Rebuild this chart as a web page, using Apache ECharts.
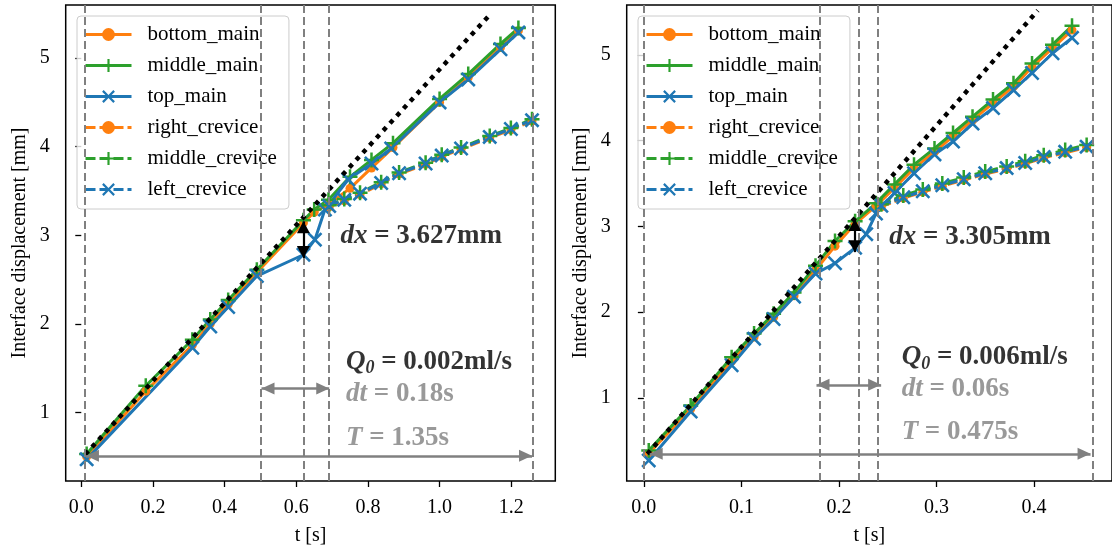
<!DOCTYPE html>
<html><head><meta charset="utf-8">
<script src="https://cdn.jsdelivr.net/npm/echarts@6/dist/echarts.min.js"></script>
<style>html,body{margin:0;padding:0;background:#fff}#c{width:1112px;height:551px}</style>
</head><body><div id="c"></div>
<script>
// ---------- data ----------
const seriesNames = ['bottom_main','middle_main','top_main','right_crevice','middle_crevice','left_crevice'];
const xTicksL = [0, 0.2, 0.4, 0.6, 0.8, 1.0, 1.2];
const xTicksR = [0, 0.1, 0.2, 0.3, 0.4];
const yTicks = [1, 2, 3, 4, 5];

// Left panel: Q0 = 0.002 ml/s
const L_main_t   = [0.015, 0.18, 0.31, 0.36, 0.41, 0.49, 0.62, 0.65, 0.69, 0.75, 0.81, 0.87, 1.0, 1.08, 1.17, 1.22];
const L_bottom_v = [0.50, 1.24, 1.76, 2.00, 2.22, 2.58, 3.14, 3.26, 3.35, 3.53, 3.76, 3.99, 4.50, 4.78, 5.12, 5.31];
const L_middle_v = [0.53, 1.30, 1.82, 2.05, 2.27, 2.61, 3.17, 3.29, 3.40, 3.66, 3.85, 4.04, 4.54, 4.82, 5.16, 5.34];
const L_top_t    = [0.015, 0.31, 0.36, 0.41, 0.49, 0.62, 0.652, 0.68, 0.745, 0.81, 0.865, 1.0, 1.08, 1.17, 1.22];
const L_top_v    = [0.47, 1.73, 1.97, 2.19, 2.54, 2.78, 2.95, 3.29, 3.63, 3.81, 3.98, 4.50, 4.76, 5.10, 5.29];
const L_crev_t         = [0.692, 0.734, 0.778, 0.837, 0.887, 0.961, 1.006, 1.06, 1.14, 1.199, 1.258];
const L_right_crev_v   = [3.32, 3.39, 3.46, 3.58, 3.69, 3.80, 3.89, 3.97, 4.10, 4.19, 4.29];
const L_middle_crev_v  = [3.34, 3.41, 3.48, 3.60, 3.71, 3.82, 3.91, 3.99, 4.12, 4.21, 4.31];
const L_left_crev_v    = [3.33, 3.40, 3.47, 3.59, 3.70, 3.81, 3.90, 3.98, 4.11, 4.20, 4.30];
const L_fit_t = [0.011, 1.137];
const L_fit_v = [0.526, 5.475];
const L_vlines = [0.011, 0.503, 0.62, 0.692, 1.258];
const L_dx = [0.62, 2.744, 3.157];      // t, from, to
const L_dt = [0.503, 0.692, 1.27];      // from, to, level
const L_T  = [0.013, 1.258, 0.51];
const L_text = ['3.627mm', '0.002ml/s', '0.18s', '1.35s'];

// Right panel: Q0 = 0.006 ml/s
const R_main_t   = [0.005, 0.048, 0.09, 0.113, 0.133, 0.154, 0.176, 0.196, 0.2166, 0.238, 0.257, 0.277, 0.298, 0.317, 0.337, 0.358, 0.379, 0.398, 0.419, 0.439];
const R_bottom_v = [0.35, 0.87, 1.43, 1.71, 1.94, 2.19, 2.49, 2.77, 3.03, 3.24, 3.45, 3.68, 3.87, 4.05, 4.24, 4.44, 4.63, 4.86, 5.08, 5.29];
const R_middle_v = [0.385, 0.91, 1.475, 1.75, 1.98, 2.23, 2.54, 2.83, 3.06, 3.27, 3.49, 3.72, 3.91, 4.09, 4.28, 4.48, 4.67, 4.90, 5.12, 5.34];
const R_top_t    = [0.005, 0.048, 0.09, 0.113, 0.133, 0.154, 0.176, 0.196, 0.2166, 0.228, 0.238, 0.257, 0.277, 0.298, 0.317, 0.337, 0.358, 0.379, 0.398, 0.419, 0.439];
const R_top_v    = [0.27, 0.84, 1.38, 1.69, 1.92, 2.18, 2.45, 2.57, 2.75, 2.91, 3.15, 3.39, 3.62, 3.84, 3.99, 4.20, 4.38, 4.59, 4.79, 5.02, 5.20];
const R_crev_t         = [0.2435, 0.266, 0.286, 0.306, 0.328, 0.35, 0.372, 0.391, 0.41, 0.432, 0.454];
const R_right_crev_v   = [3.23, 3.33, 3.40, 3.47, 3.54, 3.61, 3.67, 3.73, 3.80, 3.86, 3.92];
const R_middle_crev_v  = [3.26, 3.36, 3.43, 3.50, 3.57, 3.64, 3.70, 3.76, 3.83, 3.89, 3.95];
const R_left_crev_v    = [3.24, 3.34, 3.41, 3.48, 3.55, 3.62, 3.68, 3.74, 3.81, 3.87, 3.93];
const R_fit_t = [0.0036, 0.404];
const R_fit_v = [0.346, 5.52];
const R_vlines = [0.0036, 0.177, 0.2166, 0.2433, 0.458];
const R_dx = [0.2163, 2.70, 3.086];
const R_dt = [0.177, 0.2433, 1.152];
const R_T  = [0.006, 0.458, 0.347];
const R_text = ['3.305mm', '0.006ml/s', '0.06s', '0.475s'];

// ---------- styling ----------
const FONT = 'Liberation Serif';
const COL = {orange:'#ff7f0e', green:'#2ca02c', blue:'#1f77b4', grey:'#808080'};
const PLUS = 'path://M-1,-6H1V-1H6V1H1V6H-1V1H-6V-1H-1Z';
const CROSS = 'path://M-5.3,-4L-4,-5.3L0,-1.3L4,-5.3L5.3,-4L1.3,0L5.3,4L4,5.3L0,1.3L-4,5.3L-5.3,4L-1.3,0Z';
// arrow head whose tip sits at the symbol centre (invisible moveTo extends the box)
const HEAD = 'path://M0,-12L0,-12M0,0L6,12L-6,12Z';
const STY = {
  bottom_main:   {c:COL.orange, s:'circle', z:9, d:false},
  middle_main:   {c:COL.green,  s:PLUS,     z:15, d:false},
  top_main:      {c:COL.blue,   s:CROSS,    z:15, d:false},
  right_crevice: {c:COL.orange, s:'circle', z:9, d:true},
  middle_crevice:{c:COL.green,  s:PLUS,     z:15, d:true},
  left_crevice:  {c:COL.blue,   s:CROSS,    z:15, d:true}
};
const pairs = (t, v) => t.map((x, i) => [x, v[i]]);

function dataLine(name, t, v, gi) {
  const st = STY[name];
  return {
    type:'line', name, xAxisIndex:gi, yAxisIndex:gi, data:pairs(t, v),
    symbol:st.s, symbolSize:st.z, showSymbol:true, silent:true, animation:false,
    itemStyle:{color:st.c}, lineStyle:{color:st.c, width:3, type: st.d ? [10,4] : 'solid'},
    emphasis:{disabled:true}, z:3
  };
}

function panelSeries(gi, P) {
  const out = [];
  out.push({
    type:'line', xAxisIndex:gi, yAxisIndex:gi, data:[], silent:true, animation:false, z:1,
    markLine:{silent:true, animation:false, symbol:['none','none'], label:{show:false},
      lineStyle:{color:COL.grey, width:2, type:[8,4]},
      data:P.vlines.map(x => ({xAxis:x}))}
  });
  P.series.forEach(s => out.push(dataLine(s[0], s[1], s[2], gi)));
  out.push({
    type:'line', xAxisIndex:gi, yAxisIndex:gi, data:pairs(P.fitT, P.fitV), symbol:'none', silent:true,
    animation:false, lineStyle:{color:'#000', width:4.5, type:[4.5,5.5], cap:'butt'}, z:4
  });
  out.push({
    type:'line', xAxisIndex:gi, yAxisIndex:gi, data:[], silent:true, animation:false, z:5,
    markLine:{silent:true, animation:false, symbol:[HEAD, HEAD], symbolSize:[12,26], label:{show:false},
      lineStyle:{color:COL.grey, width:2.5, type:'solid'},
      data:[[{coord:[P.dt[0], P.dt[2]]},{coord:[P.dt[1], P.dt[2]]}],
            [{coord:[P.T[0], P.T[2]]},{coord:[P.T[1], P.T[2]]}]]}
  });
  out.push({
    type:'line', xAxisIndex:gi, yAxisIndex:gi, data:[], silent:true, animation:false, z:6,
    markLine:{silent:true, animation:false, symbol:[HEAD, HEAD], symbolSize:[13,24], label:{show:false},
      lineStyle:{color:'#000', width:2.2, type:'solid'},
      data:[[{coord:[P.dx[0], P.dx[1]]},{coord:[P.dx[0], P.dx[2]]}]]}
  });
  const rich = {
    bi:{fontFamily:FONT, fontSize:27, fontWeight:'bold', fontStyle:'italic', color:'#000'},
    b:{fontFamily:FONT, fontSize:27, fontWeight:'bold', color:'#000'},
    sub:{fontFamily:FONT, fontSize:18, fontWeight:'bold', fontStyle:'italic', color:'#000', padding:[14,0,0,0]},
    gi:{fontFamily:FONT, fontSize:27, fontWeight:'bold', fontStyle:'italic', color:COL.grey},
    g:{fontFamily:FONT, fontSize:27, fontWeight:'bold', color:COL.grey}
  };
  const txt = [
    [P.ann[0], '{bi|dx}{b| = ' + P.text[0] + '}'],
    [P.ann[1], '{bi|Q}{sub|0}{b| = ' + P.text[1] + '}'],
    [P.ann[2], '{gi|dt}{g| = ' + P.text[2] + '}'],
    [P.ann[3], '{gi|T}{g| = ' + P.text[3] + '}']
  ];
  out.push({
    type:'scatter', xAxisIndex:gi, yAxisIndex:gi, symbolSize:0, silent:true, animation:false, z:7,
    data:txt.map(o => ({value:o[0], label:{formatter:o[1]}})),
    label:{show:true, position:'right', distance:0, align:'left', verticalAlign:'middle', rich}
  });
  return out;
}

const left = {
  vlines:L_vlines, fitT:L_fit_t, fitV:L_fit_v, dx:L_dx, dt:L_dt, T:L_T, text:L_text,
  ann:[[0.7234, 2.988], [0.7388, 1.571], [0.7388, 1.211], [0.7388, 0.715]],
  series:[
    ['bottom_main', L_main_t, L_bottom_v], ['middle_main', L_main_t, L_middle_v], ['top_main', L_top_t, L_top_v],
    ['right_crevice', L_crev_t, L_right_crev_v], ['middle_crevice', L_crev_t, L_middle_crev_v], ['left_crevice', L_crev_t, L_left_crev_v]
  ]
};
const right = {
  vlines:R_vlines, fitT:R_fit_t, fitV:R_fit_v, dx:R_dx, dt:R_dt, T:R_T, text:R_text,
  ann:[[0.2516, 2.873], [0.2643, 1.474], [0.2643, 1.105], [0.2643, 0.600]],
  series:[
    ['bottom_main', R_main_t, R_bottom_v], ['middle_main', R_main_t, R_middle_v], ['top_main', R_top_t, R_top_v],
    ['right_crevice', R_crev_t, R_right_crev_v], ['middle_crevice', R_crev_t, R_middle_crev_v], ['left_crevice', R_crev_t, R_left_crev_v]
  ]
};

function xAxis(gi, min, max, ticks) {
  return {
    type:'value', gridIndex:gi, min, max, name:'t [s]', nameLocation:'middle', nameGap:45,
    nameTextStyle:{fontFamily:FONT, fontSize:20, color:'#000'},
    axisLine:{show:false}, splitLine:{show:false},
    axisTick:{show:true, inside:false, length:6, customValues:ticks, lineStyle:{color:'#000', width:1.3}},
    axisLabel:{show:true, margin:17, customValues:ticks, fontFamily:FONT, fontSize:20, color:'#000',
      formatter:v => Number(v).toFixed(1)}
  };
}
function yAxis(gi, min, max) {
  return {
    type:'value', gridIndex:gi, min, max, name:'Interface displacement [mm]', nameLocation:'middle', nameGap:36,
    nameTextStyle:{fontFamily:FONT, fontSize:20, color:'#000'},
    axisLine:{show:false}, splitLine:{show:false},
    axisTick:{show:true, inside:false, length:6, customValues:yTicks, lineStyle:{color:'#000', width:1.3}},
    axisLabel:{show:true, margin:16, customValues:yTicks, fontFamily:FONT, fontSize:20, color:'#000',
      formatter:v => String(Math.round(v))}
  };
}
function legend(x) {
  return {
    left:x, top:16, orient:'vertical', itemWidth:46, itemHeight:16, itemGap:10, selectedMode:false,
    padding:[8, 12, 9, 7], backgroundColor:'rgba(255,255,255,0.8)', borderColor:'#cccccc',
    borderWidth:1, borderRadius:4, lineStyle:{width:3},
    textStyle:{fontFamily:FONT, fontSize:21, color:'#000', padding:[0,0,0,11]},
    data:seriesNames
  };
}

const chart = echarts.init(document.getElementById('c'), null, {renderer:'canvas'});
chart.setOption({
  animation:false,
  backgroundColor:'#fff',
  grid:[
    {left:65.7, top:5, width:489.6, height:476.7, show:true, borderColor:'#000', borderWidth:1.5, backgroundColor:'transparent', containLabel:false},
    {left:626.7, top:5, width:489.5, height:476.7, show:true, borderColor:'#000', borderWidth:1.5, backgroundColor:'transparent', containLabel:false}
  ],
  xAxis:[xAxis(0, -0.0435, 1.323, xTicksL), xAxis(1, -0.0176, 0.48, xTicksR)],
  yAxis:[yAxis(0, 0.2255, 5.6), yAxis(1, 0.03, 5.583)],
  legend:[legend(77), legend(638)],
  series:[...panelSeries(0, left), ...panelSeries(1, right)]
});
</script></body></html>
